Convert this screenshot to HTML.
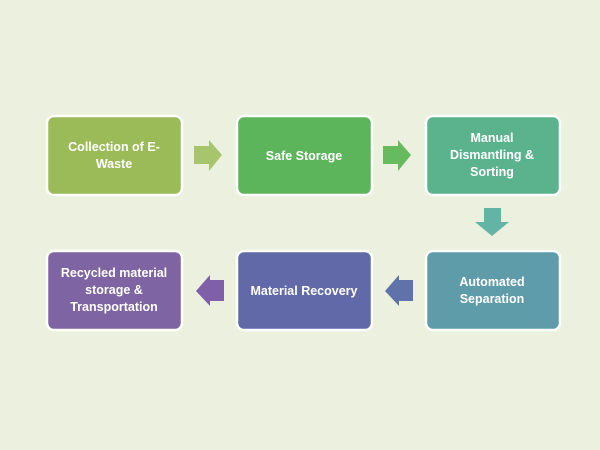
<!DOCTYPE html>
<html><head><meta charset="utf-8"><style>
html,body{margin:0;padding:0;background:#ebf1de;}
svg{display:block}
text{font-family:"Liberation Sans",sans-serif;font-weight:bold;font-size:12.5px;fill:#fff;text-anchor:middle}
</style></head><body>
<svg width="600" height="450" viewBox="0 0 600 450">
<rect width="600" height="450" fill="#ebf1de"/>
<g stroke="#fff" stroke-width="2.5">
<rect x="47" y="116" width="135" height="79" rx="7" fill="#9bbb59"/>
<rect x="237" y="116" width="135" height="79" rx="7" fill="#5db55b"/>
<rect x="426" y="116" width="134" height="79" rx="7" fill="#5bb38e"/>
<rect x="426" y="251" width="134" height="79" rx="7" fill="#5f9caa"/>
<rect x="237" y="251" width="135" height="79" rx="7" fill="#6169a8"/>
<rect x="47" y="251" width="135" height="79" rx="7" fill="#7e64a2"/>
</g>
<polygon points="194,146 209,146 209,140 222,155 209,171 209,164 194,164" fill="#a6c56d"/>
<polygon points="383,146 398,146 398,140 411,155 398,171 398,164 383,164" fill="#66bb5f"/>
<polygon points="484,208 501,208 501,222 509,222 492,236 475,222 484,222" fill="#64b4a6"/>
<polygon points="413,280 399,280 399,275 385,291 399,306 399,301 413,301" fill="#5f73aa"/>
<polygon points="224,280 210,280 210,275 196,291 210,306 210,301 224,301" fill="#7f5fa8"/>
<text x="114" y="151">Collection of E-</text>
<text x="114" y="168">Waste</text>
<text x="304" y="160">Safe Storage</text>
<text x="492" y="142">Manual</text>
<text x="492" y="159">Dismantling &amp;</text>
<text x="492" y="176">Sorting</text>
<text x="492" y="286">Automated</text>
<text x="492" y="303">Separation</text>
<text x="304" y="295">Material Recovery</text>
<text x="114" y="277">Recycled material</text>
<text x="114" y="294">storage &amp;</text>
<text x="114" y="311">Transportation</text>
</svg>
</body></html>
